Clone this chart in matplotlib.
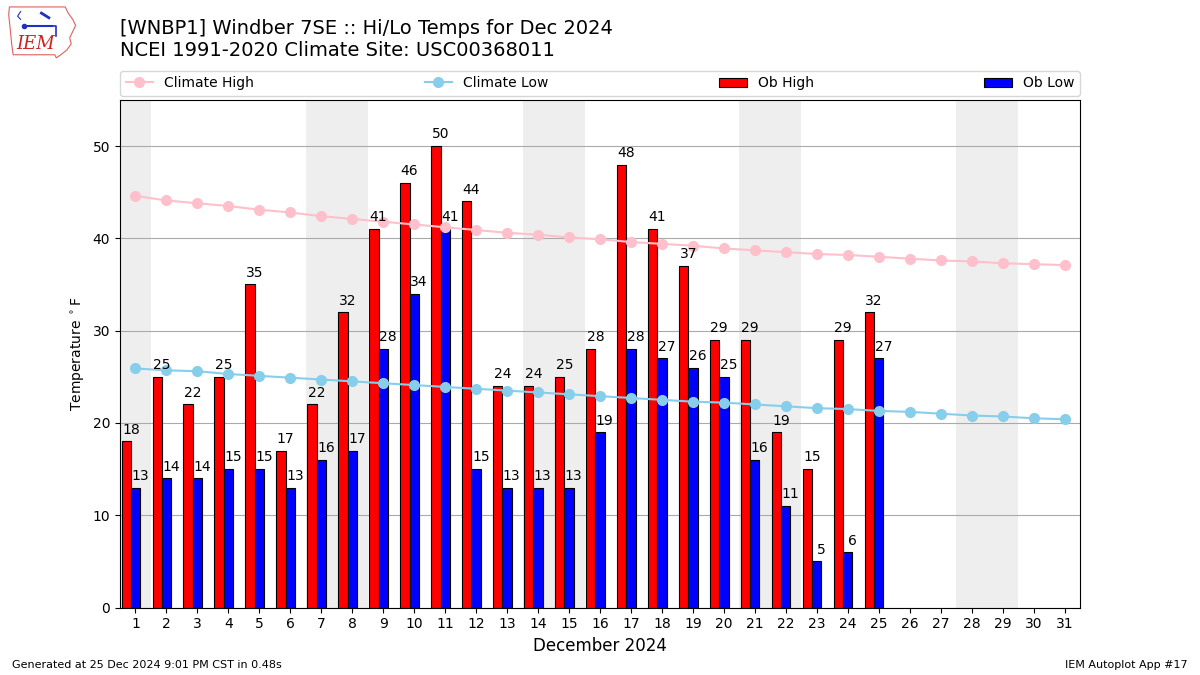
import numpy as np
import matplotlib
matplotlib.use('Agg')
import matplotlib.pyplot as plt
import matplotlib.patches as patches

# observed daily values (Dec 1 - 25)
days_obs = list(range(1, 26))
ob_high = [18, 25, 22, 25, 35, 17, 22, 32, 41, 46, 50, 44, 24, 24, 25,
           28, 48, 41, 37, 29, 29, 19, 15, 29, 32]
ob_low = [13, 14, 14, 15, 15, 13, 16, 17, 28, 34, 41, 15, 13, 13, 13,
          19, 28, 27, 26, 25, 16, 11, 5, 6, 27]

# NCEI 1991-2020 climatology (Dec 1 - 31)
days_all = list(range(1, 32))
clim_high = [44.6, 44.1, 43.8, 43.5, 43.1, 42.8, 42.4, 42.1, 41.8, 41.5, 41.2,
             40.9, 40.6, 40.4, 40.1, 39.9, 39.6, 39.4, 39.2, 38.9, 38.7, 38.5,
             38.3, 38.2, 38.0, 37.8, 37.6, 37.5, 37.3, 37.2, 37.1]
clim_low = [25.9, 25.7, 25.6, 25.3, 25.1, 24.9, 24.7, 24.5, 24.3, 24.1, 23.9,
            23.7, 23.5, 23.3, 23.1, 22.9, 22.7, 22.5, 22.3, 22.2, 22.0, 21.8,
            21.6, 21.5, 21.3, 21.2, 21.0, 20.8, 20.7, 20.5, 20.4]

weekend_days = [1, 7, 8, 14, 15, 21, 22, 28, 29]

fig = plt.figure(figsize=(12, 6.75), dpi=100)
ax = fig.add_axes([0.1, 0.1, 0.8, 0.752])

# weekend shading
for d in weekend_days:
    ax.axvspan(d - 0.5, d + 0.5, color='#EEEEEE', zorder=0, lw=0)

ax.grid(True, axis='y', color='#AAAAAA', lw=0.8, zorder=1)
ax.set_axisbelow(True)

x = np.array(days_obs)
ax.bar(x - 0.3, ob_high, width=0.3, fc='r', ec='k', lw=0.8, zorder=2,
       label='Ob High')
ax.bar(x, ob_low, width=0.3, fc='b', ec='k', lw=0.8, zorder=2,
       label='Ob Low')

ax.plot(days_all, clim_high, color='pink', marker='o', ms=7, lw=1.5,
        zorder=3, label='Climate High')
ax.plot(days_all, clim_low, color='skyblue', marker='o', ms=7, lw=1.5,
        zorder=3, label='Climate Low')

for d, h, l in zip(days_obs, ob_high, ob_low):
    ax.text(d - 0.15, h + 0.5, str(h), ha='center', va='bottom',
            fontsize=10, zorder=4)
    ax.text(d + 0.15, l + 0.5, str(l), ha='center', va='bottom',
            fontsize=10, zorder=4)

ax.set_xlim(0.5, 31.5)
ax.set_ylim(0, 55)
ax.set_xticks(days_all)
ax.set_yticks(range(0, 51, 10))
ax.set_xlabel('December 2024', fontsize=12)
ax.set_ylabel(r'Temperature $^\circ$F')

ax.legend(loc='lower left', bbox_to_anchor=(0, 1.008, 1, 0.05),
          mode='expand', ncol=4, fontsize=10, borderaxespad=0)

fig.text(0.1, 0.972, '[WNBP1] Windber 7SE :: Hi/Lo Temps for Dec 2024',
         fontsize=14, va='top')
fig.text(0.1, 0.94, 'NCEI 1991-2020 Climate Site: USC00368011',
         fontsize=14, va='top')

fig.text(0.01, 0.01, 'Generated at 25 Dec 2024 9:01 PM CST in 0.48s',
         fontsize=8)
fig.text(0.99, 0.01, 'IEM Autoplot App #17', fontsize=8, ha='right')

# rough IEM logo
lax = fig.add_axes([0.006, 0.912, 0.062, 0.08])
lax.set_xlim(0, 100)
lax.set_ylim(0, 70)
lax.axis('off')
outline = [(3, 68), (78, 68), (82, 60), (88, 52), (92, 44), (88, 36),
           (84, 28), (86, 20), (80, 12), (72, 6), (66, 2), (64, 6),
           (8, 6), (6, 20), (4, 40), (2, 58)]
lax.add_patch(patches.Polygon(outline, closed=True, fill=False,
                              ec='#E06060', lw=0.8))
lax.plot([22, 60], [43, 43], color='#2030C0', lw=1.5)
lax.plot([60, 65, 65], [43, 43, 30], color='#2030C0', lw=1.2)
lax.plot([22], [43], 'o', color='#2030C0', ms=3)
lax.plot([46, 56], [60, 54], color='#2030C0', lw=2)
lax.plot([18, 14, 18], [62, 56, 52], color='#2030C0', lw=0.8)
lax.text(12, 14, 'IEM', color='#D02020', fontsize=13, family='serif',
         style='italic')

fig.savefig('out.png', dpi=100)
